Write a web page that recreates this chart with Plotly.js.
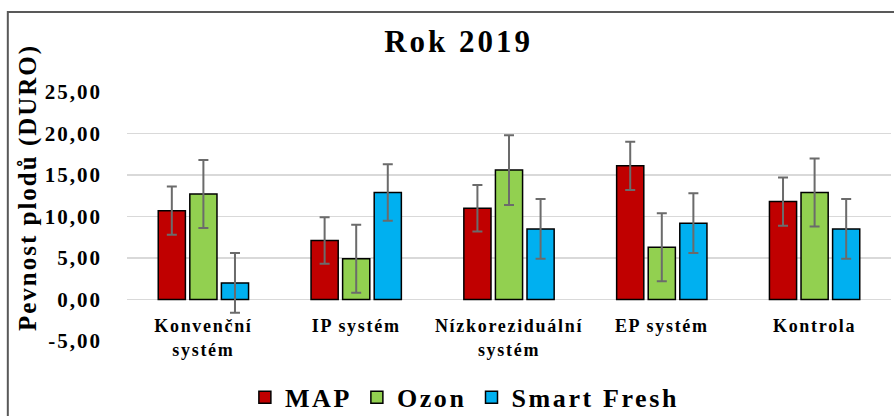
<!DOCTYPE html>
<html>
<head>
<meta charset="utf-8">
<script src="https://cdn.plot.ly/plotly-3.0.1.min.js"></script>
<style>
  html, body { margin: 0; padding: 0; background: #fff; }
  #chart { width: 894px; height: 416px; }
  .gtitle { letter-spacing: 3px; }
  .ytick text { letter-spacing: 2px; }
  .xtick text { letter-spacing: 1.7px; }
  .legendtext { letter-spacing: 2.6px; }
  .annotation-text { letter-spacing: 2px; }
</style>
</head>
<body>
<div id="chart"></div>
<script>
const categories = ["Konvenční<br>systém", "IP systém", "Nízkoreziduální<br>systém", "EP systém", "Kontrola"];
const seriesNames = ["MAP", "Ozon", "Smart Fresh"];
const mapValues = [10.7, 7.1, 11.0, 16.1, 11.8];
const mapErrors = [2.9, 2.8, 2.8, 2.9, 2.9];
const ozonValues = [12.7, 4.9, 15.6, 6.3, 12.9];
const ozonErrors = [4.1, 4.1, 4.2, 4.1, 4.1];
const smartFreshValues = [2.0, 12.9, 8.5, 9.2, 8.5];
const smartFreshErrors = [3.6, 3.4, 3.6, 3.6, 3.6];
const yTickValues = [-5, 0, 5, 10, 15, 20, 25];
const yTickLabels = ["-5,00", "0,00", "5,00", "10,00", "15,00", "20,00", "25,00"];
const yAxisTitle = "Pevnost plodů (DURO)";
const chartTitle = "Rok 2019";

const FONT = "'Liberation Serif', 'Times New Roman', serif";
const colors = ["#C00000", "#92D050", "#00B0F0"];
const vals = [mapValues, ozonValues, smartFreshValues];
const errs = [mapErrors, ozonErrors, smartFreshErrors];

const traces = seriesNames.map((name, i) => ({
  type: "bar",
  name: name,
  x: categories,
  y: vals[i],
  marker: { color: colors[i], line: { color: "#000000", width: 1.5 } },
  error_y: { type: "data", array: errs[i], visible: true, color: "#6b6b6b", thickness: 2, width: 5 },
  hoverinfo: "x+y+name"
}));

const layout = {
  width: 894,
  height: 416,
  margin: { l: 127, r: 3, t: 92, b: 75, pad: 0 },
  paper_bgcolor: "#ffffff",
  plot_bgcolor: "#ffffff",
  font: { family: FONT, color: "#000000", weight: "bold" },
  title: {
    text: chartTitle,
    font: { family: FONT, size: 31, color: "#000000", weight: "bold" },
    xref: "container", x: 0.513, xanchor: "center",
    yref: "container", y: 0.9, yanchor: "middle"
  },
  barmode: "group",
  bargap: 0.38,
  bargroupgap: 0.14,
  xaxis: {
    type: "category",
    anchor: "free",
    position: 0.1667,
    automargin: false,
    showline: false,
    showgrid: false,
    zeroline: false,
    ticks: "",
    ticklabelstandoff: 14,
    tickfont: { family: FONT, size: 18, color: "#000000", weight: "bold" }
  },
  yaxis: {
    range: [-5, 25],
    tickvals: yTickValues,
    ticktext: yTickLabels,
    showgrid: true,
    gridcolor: "#d9d9d9",
    gridwidth: 1.5,
    zeroline: false,
    showline: false,
    ticks: "",
    ticklabelstandoff: 24,
    automargin: false,
    tickfont: { family: FONT, size: 21, color: "#000000", weight: "bold" }
  },
  annotations: [{
    text: yAxisTitle,
    textangle: -90,
    xref: "paper", yref: "paper",
    x: -0.1296, y: 0.618,
    xanchor: "center", yanchor: "middle",
    showarrow: false,
    font: { family: FONT, size: 25, color: "#000000", weight: "bold" }
  }],
  showlegend: true,
  legend: {
    orientation: "h",
    xref: "container", x: 0.52, xanchor: "center",
    yref: "container", y: 0.045, yanchor: "middle",
    itemgap: 10,
    font: { family: FONT, size: 26, color: "#000000", weight: "bold" },
    bgcolor: "rgba(0,0,0,0)",
    traceorder: "normal"
  },
  shapes: [{
    type: "rect",
    xref: "paper", yref: "paper",
    x0: -0.156, x1: 1.02, y0: -0.45, y1: 1.321,
    line: { color: "#595959", width: 2 },
    fillcolor: "rgba(0,0,0,0)",
    layer: "below"
  }]
};

Plotly.newPlot("chart", traces, layout, { displayModeBar: false, staticPlot: true });
</script>
</body>
</html>
